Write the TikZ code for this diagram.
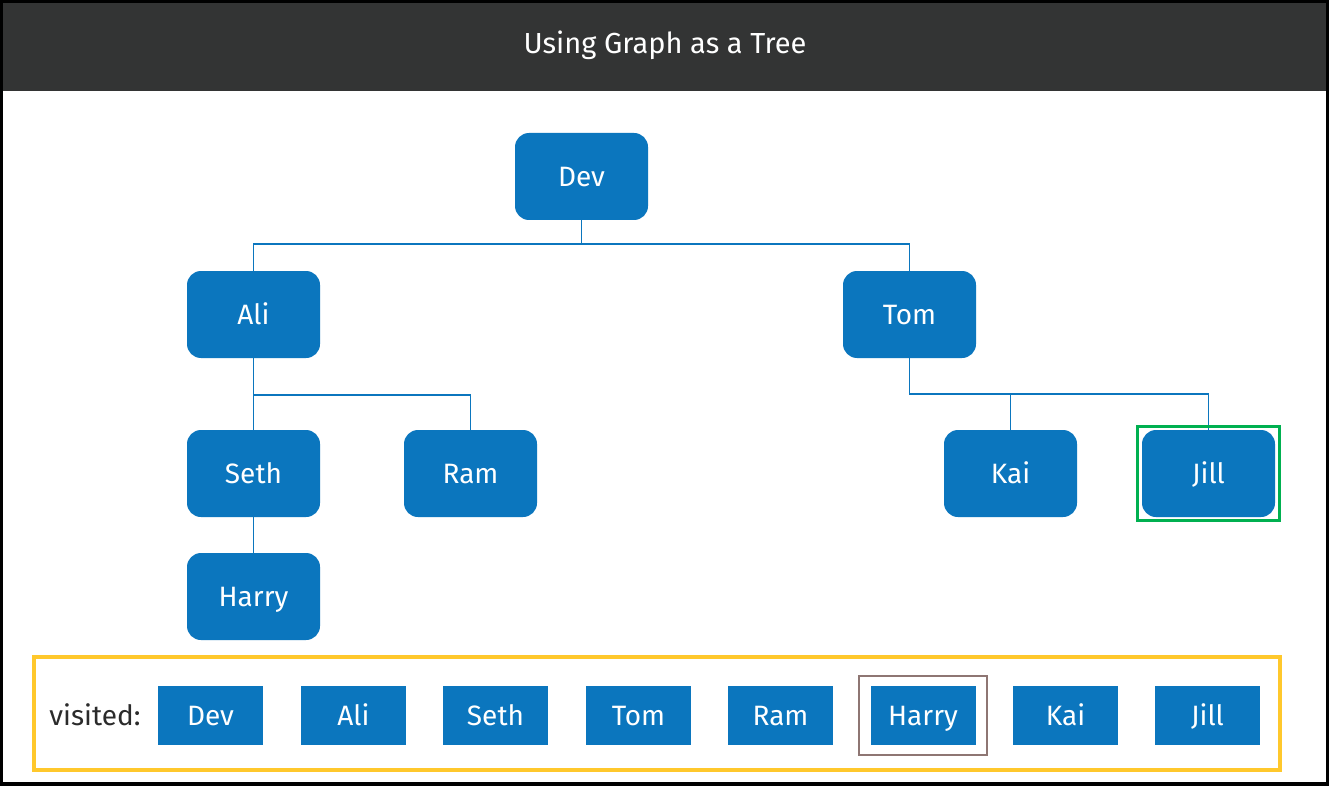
\documentclass[tikz,border=0pt]{standalone}
\usepackage{fontspec}
\setmainfont{Fira Sans}
\usetikzlibrary{fit}
\definecolor{nodeblue}{HTML}{0B76BE}
\definecolor{headbg}{HTML}{333434}
\definecolor{visyellow}{HTML}{FFC82C}
\definecolor{visgreen}{HTML}{00B050}
\definecolor{visbrown}{HTML}{8E7673}
\definecolor{txtgray}{HTML}{2B2B2B}
\tikzset{
  tnode/.style={rectangle, rounded corners=14pt, fill=nodeblue, draw=none, text=white,
    minimum width=133pt, minimum height=87pt, inner sep=0pt, text height=19.5pt, text depth=0pt,
    font=\fontsize{28}{32}\selectfont},
  vbox/.style={rectangle, fill=nodeblue, draw=none, text=white,
    minimum width=105pt, minimum height=59pt, inner sep=0pt, text height=19.5pt, text depth=0pt,
    font=\fontsize{28}{32}\selectfont},
  link/.style={draw=nodeblue, line width=1.6pt},
}
\begin{document}
\begin{tikzpicture}[x=1pt,y=-1pt]
\useasboundingbox (0,0) rectangle (1329,786);
\fill[black] (0,0) rectangle (1329,786);
\fill[white] (3,3) rectangle (1326,782);
\fill[headbg] (3,3) rectangle (1326,91);
\node[text=white, text height=20pt, text depth=0pt, font=\fontsize{29}{32}\selectfont] (title) at (665,44) {Using Graph as a Tree};

\node[tnode] (Dev) at (581.5,176.5) {Dev};
\node[tnode] (Ali) at (253.5,314.5) {Ali};
\node[tnode] (Tom) at (909.5,314.5) {Tom};
\node[tnode] (Seth) at (253.5,473.5) {Seth};
\node[tnode] (Ram) at (470.5,473.5) {Ram};
\node[tnode] (Kai) at (1010.5,473.5) {Kai};
\node[tnode] (Jill) at (1208.5,473.5) {Jill};
\node[tnode] (Harry) at (253.5,596.5) {Harry};

\draw[link] (Dev.south) -- ++(0,24) -| (Ali.north);
\draw[link] (Dev.south) -- ++(0,24) -| (Tom.north);
\draw[link] (Ali.south) -- (Seth.north);
\draw[link] (Ali.south) -- ++(0,37) -| (Ram.north);
\draw[link] (Tom.south) -- ++(0,36) -| (Kai.north);
\draw[link] (Tom.south) -- ++(0,36) -| (Jill.north);
\draw[link] (Seth.south) -- (Harry.north);

\node[draw=visgreen, line width=2.5pt, inner xsep=4.5pt, inner ysep=3.5pt, fit=(Jill)] (jillmark) {};

\draw[draw=visyellow, line width=3.5pt] (34,657) rectangle (1280,770);
\node[text=txtgray, text height=19.5pt, text depth=0pt, font=\fontsize{28}{32}\selectfont] (vlabel) at (95,715.5) {visited:};
\node[vbox] (v1) at (210.5,715.5) {Dev};
\node[vbox] (v2) at (353.5,715.5) {Ali};
\node[vbox] (v3) at (495.5,715.5) {Seth};
\node[vbox] (v4) at (638.5,715.5) {Tom};
\node[vbox] (v5) at (780.5,715.5) {Ram};
\node[vbox] (v6) at (923,715.5) {Harry};
\node[vbox] (v7) at (1065.5,715.5) {Kai};
\node[vbox] (v8) at (1207.5,715.5) {Jill};
\node[draw=visbrown, line width=2pt, inner xsep=11.5pt, inner ysep=9.5pt, fit=(v6)] (harrymark) {};
\end{tikzpicture}
\end{document}
